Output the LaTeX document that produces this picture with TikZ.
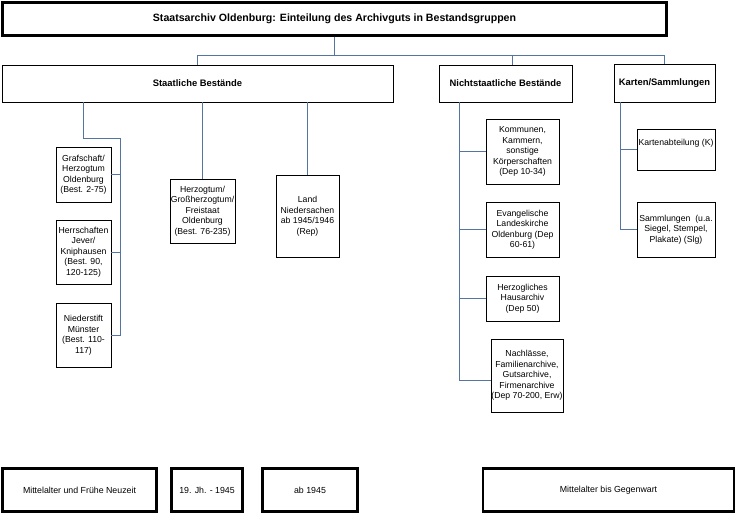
\documentclass[tikz,border=0pt]{standalone}
\usepackage{fontspec}
\setmainfont{Liberation Sans}
\usepackage{tikz}

\definecolor{linkblue}{RGB}{84,116,162}

\begin{document}
\begin{tikzpicture}[x=1pt, y=-1pt,
    box/.style={draw, line width=0.9pt, align=center, inner sep=0.5pt,
        font=\fontsize{8.7}{10.5}\selectfont},
    headbox/.style={draw, line width=0.9pt, inner sep=1pt,
        font=\bfseries\fontsize{9.4}{11}\selectfont},
    framebox/.style={draw, line width=1.3pt, inner sep=1pt,
        font=\fontsize{8.8}{10.5}\selectfont},
    conn/.style={draw=linkblue, line width=1pt}]
    \useasboundingbox (0,0) rectangle (736,514);

    % Title
    \node[framebox, font=\bfseries\fontsize{10.6}{12}\selectfont,
        minimum width=665pt, minimum height=34pt] (title) at (334.5,19)
        {Staatsarchiv Oldenburg: Einteilung des Archivguts in Bestandsgruppen};

    % Top row
    \node[headbox, minimum width=391pt, minimum height=37pt] (staat) at (197.5,83.5) {Staatliche Bestände};
    \node[headbox, minimum width=133pt, minimum height=37pt] (nicht) at (505.5,83.5) {Nichtstaatliche Bestände};
    \node[headbox, minimum width=101pt, minimum height=38pt] (karten) at (664.5,83) {Karten/Sammlungen};

    % Staatliche Bestände
    \node[box, minimum width=55pt, minimum height=55pt] (graf) at (83.5,174.5)
        {Grafschaft/\\Herzogtum\\Oldenburg\\(Best. 2-75)};
    \node[box, minimum width=55pt, minimum height=64pt] (herr) at (83.5,252)
        {Herrschaften\\Jever/\\Kniphausen\\(Best. 90,\\120-125)};
    \node[box, minimum width=55pt, minimum height=64pt] (nieder) at (83.5,335)
        {Niederstift\\Münster\\(Best. 110-\\117)};
    \node[box, minimum width=65pt, minimum height=64pt] (herzog) at (202.5,211)
        {Herzogtum/\\Großherzogtum/\\Freistaat\\Oldenburg\\(Best. 76-235)};
    \node[box, minimum width=63pt, minimum height=82pt] (land) at (307.5,216)
        {Land\\Niedersachen\\ab 1945/1946\\(Rep)};

    % Nichtstaatliche Bestände
    \node[box, minimum width=73pt, minimum height=65pt] (kommun) at (522.5,151.5)
        {Kommunen,\\Kammern,\\sonstige\\Körperschaften\\(Dep 10-34)};
    \node[box, minimum width=73pt, minimum height=55pt] (kirche) at (522.5,229.5)
        {Evangelische\\Landeskirche\\Oldenburg (Dep\\60-61)};
    \node[box, minimum width=73pt, minimum height=45pt] (haus) at (522.5,298.5)
        {Herzogliches\\Hausarchiv\\(Dep 50)};
    \node[box, minimum width=72pt, minimum height=73pt] (nachl) at (527,375.5)
        {Nachlässe,\\Familienarchive,\\Gutsarchive,\\Firmenarchive\\(Dep 70-200, Erw)};

    % Karten/Sammlungen
    \node[box, minimum width=78pt, minimum height=41pt, text depth=14pt] (kabt) at (676,149.5)
        {Kartenabteilung (K)};
    \node[box, minimum width=78pt, minimum height=55pt] (samml) at (676,229.5)
        {Sammlungen~ (u.a.\\Siegel, Stempel,\\Plakate) (Slg)};

    % Time spans
    \node[framebox, minimum width=155pt, minimum height=44pt] (mittel) at (79.5,490) {Mittelalter und Frühe Neuzeit};
    \node[framebox, minimum width=72pt, minimum height=44pt] (jh) at (207,490) {19. Jh. - 1945};
    \node[framebox, minimum width=96pt, minimum height=44pt] (ab) at (310,490) {ab 1945};
    \node[framebox, minimum width=252pt, minimum height=44pt] (gegen) at (608.5,490) {Mittelalter bis Gegenwart};

    % inner line of the framed boxes
    \foreach \n in {title,mittel,jh,ab,gegen}
        \draw[line width=0.55pt] ([shift={(1.9pt,-1.9pt)}]\n.north west) rectangle ([shift={(-1.9pt,1.9pt)}]\n.south east);

    % Connectors
    \coordinate (bus) at (0,55);
    \coordinate (leftbus) at (120,138);
    \coordinate (nbus) at (459,0);
    \coordinate (kbus) at (620,0);
    \draw[conn] (title.south) -- (title.south |- bus);
    \draw[conn] (staat.north) |- (karten.north |- bus) -- (karten.north);
    \draw[conn] ([xshift=6.5pt]nicht.north) -- ([xshift=6.5pt]nicht.north |- bus);

    \draw[conn] (graf.north |- staat.south) |- (leftbus) |- (nieder.east);
    \draw[conn] (leftbus |- graf.east) -- (graf.east);
    \draw[conn] (leftbus |- herr.east) -- (herr.east);
    \draw[conn] (herzog.north |- staat.south) -- (herzog.north);
    \draw[conn] (land.north |- staat.south) -- (land.north);

    \draw[conn] (nbus |- nicht.south) |- ([yshift=-4.5pt]nachl.west);
    \draw[conn] (nbus |- kommun.west) -- (kommun.west);
    \draw[conn] (nbus |- kirche.west) -- (kirche.west);
    \draw[conn] (nbus |- haus.west) -- (haus.west);

    \draw[conn] (kbus |- karten.south) |- (samml.west);
    \draw[conn] (kbus |- kabt.west) -- (kabt.west);
\end{tikzpicture}
\end{document}
